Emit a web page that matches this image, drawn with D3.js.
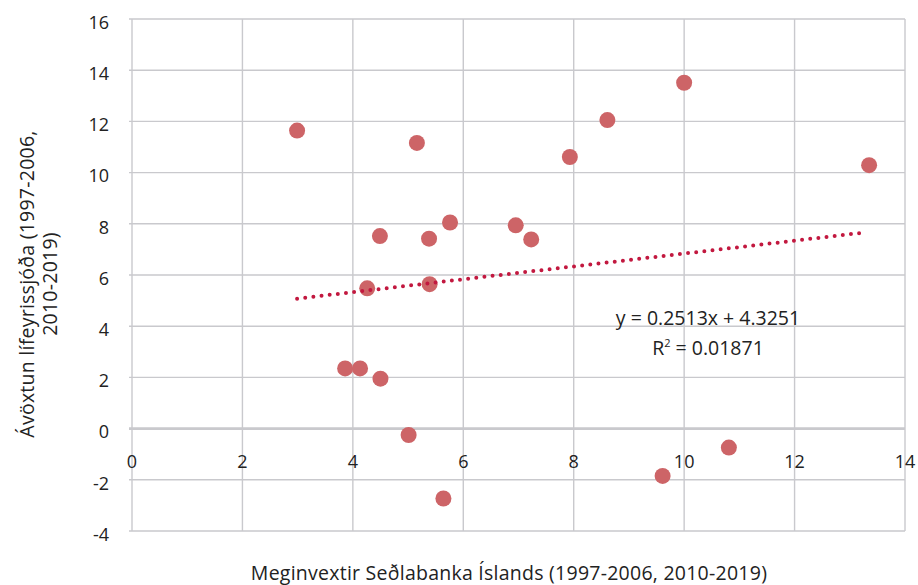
<!DOCTYPE html>
<html>
<head>
<meta charset="utf-8">
<script src="https://cdn.jsdelivr.net/npm/d3@7"></script>
<style>
  html, body { margin: 0; padding: 0; background: #fff; }
  svg { display: block; font-family: "Open Sans", sans-serif; }
</style>
</head>
<body>
<svg id="chart" width="918" height="585"></svg>
<script>
// Policy rate (x) vs. pension fund returns (y), 1997-2006 and 2010-2019
const policyRate = [2.99, 10.0, 8.61, 13.35, 7.93, 5.16, 4.49, 5.38, 5.76, 6.95,
                    7.23, 4.26, 5.39, 3.86, 4.13, 4.5, 5.01, 5.64, 9.61, 10.81];
const fundReturn = [11.64, 13.51, 12.05, 10.29, 10.61, 11.16, 7.52, 7.42, 8.05, 7.94,
                    7.39, 5.48, 5.64, 2.35, 2.35, 1.95, -0.25, -2.73, -1.85, -0.74];

// Linear trend as stated on the chart
const trendSlope = 0.2513;
const trendIntercept = 4.3251;
const trendR2 = "0.01871";

const xTicks = [0, 2, 4, 6, 8, 10, 12, 14];
const yTicks = [-4, -2, 0, 2, 4, 6, 8, 10, 12, 14, 16];

const xTitle = "Meginvextir Seðlabanka Íslands (1997-2006, 2010-2019)";
const yTitleLines = ["Ávöxtun lífeyrissjóða (1997-2006,", "2010-2019)"];

const svg = d3.select("#chart");
const textColor = "#222222";
const gridColor = "#c9c9cd";

const x = d3.scaleLinear().domain([0, 14]).range([132, 905]);
const y = d3.scaleLinear().domain([-4, 16]).range([531, 19]);

// Gridlines
const grid = svg.append("g");
grid.selectAll("line.h").data(yTicks).join("line")
  .attr("x1", x(0) - 3).attr("x2", x(14))
  .attr("y1", d => y(d)).attr("y2", d => y(d))
  .attr("stroke", gridColor)
  .attr("stroke-width", d => d === 0 ? 2.6 : 1.4);
grid.selectAll("line.v").data(xTicks).join("line")
  .attr("x1", d => x(d)).attr("x2", d => x(d))
  .attr("y1", y(16)).attr("y2", y(-4))
  .attr("stroke", gridColor)
  .attr("stroke-width", 1.4);

// Y tick labels
svg.append("g").selectAll("text").data(yTicks).join("text")
  .attr("x", 109).attr("y", d => y(d) + 3.5)
  .attr("dy", "0.35em")
  .attr("text-anchor", "end")
  .attr("font-size", 18)
  .attr("fill", textColor)
  .text(d => d);

// X tick labels sit just under the zero line
svg.append("g").selectAll("text").data(xTicks).join("text")
  .attr("x", d => x(d)).attr("y", y(0) + 39.5)
  .attr("text-anchor", "middle")
  .attr("font-size", 18)
  .attr("fill", textColor)
  .text(d => d);

// Data points
svg.append("g").selectAll("circle").data(policyRate).join("circle")
  .attr("cx", d => x(d))
  .attr("cy", (d, i) => y(fundReturn[i]))
  .attr("r", 8)
  .attr("fill", "#cd6467");

// Dotted trendline across the data range
const [xMin, xMax] = d3.extent(policyRate);
const trend = [xMin, xMax - 0.1].map(v => [v, trendSlope * v + trendIntercept]);
svg.append("path")
  .attr("d", d3.line().x(d => x(d[0])).y(d => y(d[1]))(trend))
  .attr("fill", "none")
  .attr("stroke", "#c2183f")
  .attr("stroke-width", 4)
  .attr("stroke-linecap", "round")
  .attr("stroke-dasharray", "0 8.2");

// Equation label
const eq = svg.append("text")
  .attr("text-anchor", "middle")
  .attr("font-size", 19.5)
  .attr("fill", textColor);
eq.append("tspan").attr("x", 708).attr("y", 325)
  .text(`y = ${trendSlope}x + ${trendIntercept}`);
const r2 = eq.append("tspan").attr("x", 708).attr("y", 355);
r2.append("tspan").text("R");
r2.append("tspan").attr("font-size", 11).attr("dy", -8).text("2");
r2.append("tspan").attr("dy", 8).text(` = ${trendR2}`);

// Axis titles
svg.append("text")
  .attr("x", 509).attr("y", 580)
  .attr("text-anchor", "middle")
  .attr("font-size", 19.5)
  .attr("letter-spacing", 0.25)
  .attr("fill", textColor)
  .text(xTitle);

const yt = svg.append("text")
  .attr("transform", "translate(0,284) rotate(-90)")
  .attr("text-anchor", "middle")
  .attr("font-size", 19.5)
  .attr("letter-spacing", 0.25)
  .attr("fill", textColor);
yt.selectAll("tspan").data(yTitleLines).join("tspan")
  .attr("x", 0)
  .attr("y", (d, i) => 34 + i * 23)
  .text(d => d);
</script>
</body>
</html>
